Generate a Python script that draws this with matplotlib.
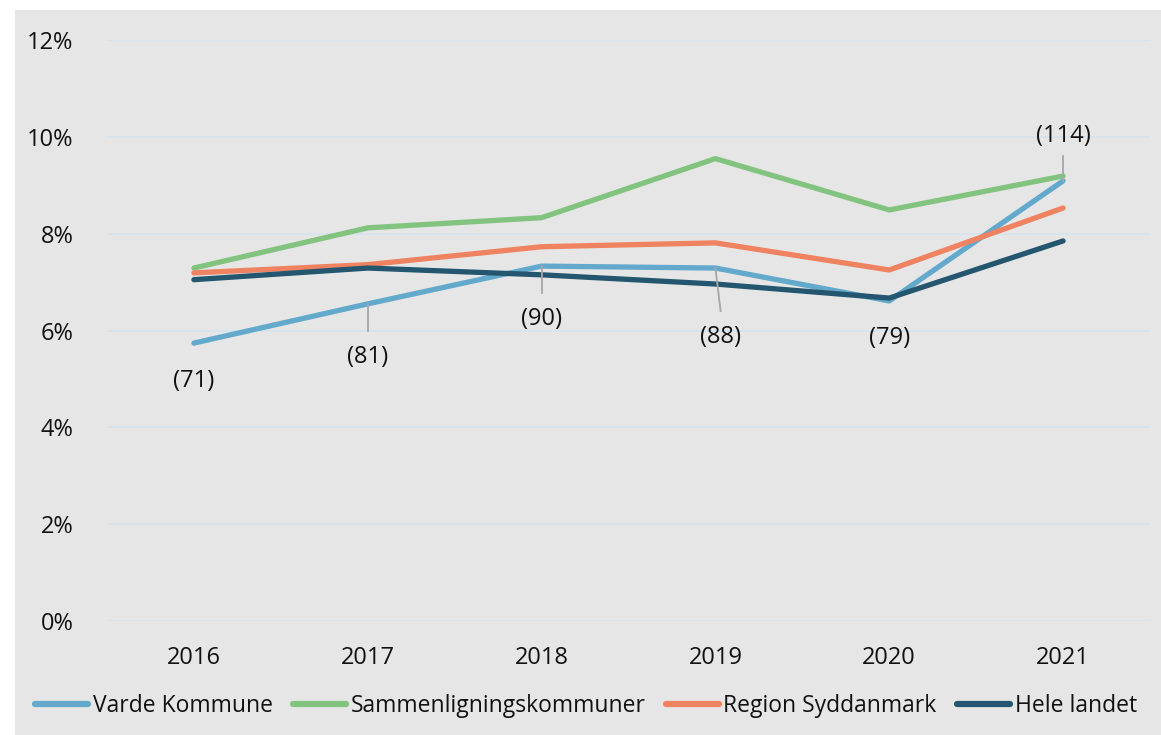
import matplotlib.pyplot as plt
from matplotlib.patches import Rectangle
from matplotlib.lines import Line2D

years = ["2016", "2017", "2018", "2019", "2020", "2021"]
varde = [5.74, 6.55, 7.33, 7.29, 6.61, 9.09]
sammen = [7.29, 8.12, 8.33, 9.55, 8.49, 9.19]
region = [7.19, 7.36, 7.73, 7.81, 7.25, 8.53]
hele = [7.05, 7.29, 7.15, 6.96, 6.67, 7.85]
counts = ["(71)", "(81)", "(90)", "(88)", "(79)", "(114)"]

series = [
    ("Varde Kommune", varde, "#63a9cc"),
    ("Sammenligningskommuner", sammen, "#83c380"),
    ("Region Syddanmark", region, "#ee8261"),
    ("Hele landet", hele, "#24566f"),
]

plt.rcParams["font.family"] = ["Open Sans", "DejaVu Sans"]

fig = plt.figure(figsize=(11.61, 7.35), dpi=100)
fig.patch.set_facecolor("white")
fig.patches.append(Rectangle((15 / 1161, 0), 1, (735 - 10) / 735,
                             transform=fig.transFigure, facecolor="#e6e6e6",
                             edgecolor="none", zorder=-10))

ax = fig.add_axes([107 / 1161, 114 / 735, 1043 / 1161, 581 / 735])
ax.set_facecolor("none")
x = list(range(len(years)))

ax.set_ylim(0, 12)
ax.set_xlim(-0.5, len(years) - 0.5)
ax.set_yticks(range(0, 13, 2))
ax.set_yticklabels([f"{v}%" for v in range(0, 13, 2)])
ax.set_xticks(x)
ax.set_xticklabels(years)
ax.grid(axis="y", color="#d6e4ef", linewidth=1.2)
ax.set_axisbelow(True)
for s in ax.spines.values():
    s.set_visible(False)
ax.tick_params(length=0, labelsize=17, colors="#111111")
ax.tick_params(axis="y", pad=24)
ax.tick_params(axis="x", pad=18)

for label, vals, color in series:
    ax.plot(x, vals, color=color, linewidth=3.8, solid_capstyle="round",
            solid_joinstyle="round", label=label, zorder=3)

# count labels with leader lines: (x offset, text y, leader end)
label_pos = [
    (0, 4.95, None),
    (0, 5.45, 6.0),
    (0, 6.23, 6.78),
    (0.03, 5.87, 6.4),
    (0, 5.85, None),
    (0, 10.02, 9.6),
]
for i, (dx, ty, lead) in enumerate(label_pos):
    ax.text(i + dx, ty, counts[i], ha="center", va="center",
            fontsize=17, color="#111111", zorder=5)
    if lead is not None:
        ax.plot([i, i + dx], [varde[i], lead], color="#a6a6a6",
                linewidth=1.3, zorder=4)

handles = [Line2D([0], [0], color=c, linewidth=4.5, solid_capstyle="round")
           for _, _, c in series]
leg = fig.legend(handles, [s[0] for s in series], loc="center",
                 bbox_to_anchor=(586 / 1161, 1 - 706 / 735), ncol=4,
                 frameon=False, handlelength=2.3, handletextpad=0.2,
                 columnspacing=0.9, prop={"size": 16.5})
for t in leg.get_texts():
    t.set_color("#111111")

fig.savefig("out.png", dpi=100)
